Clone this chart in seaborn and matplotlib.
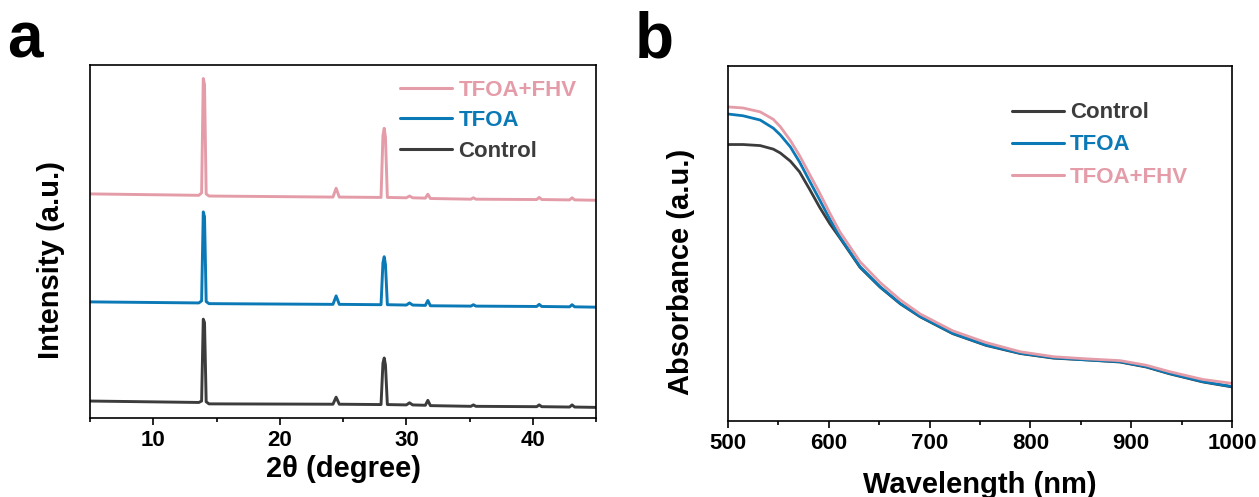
"""
plot.py
-------
XRD patterns (a) and UV-vis absorbance spectra (b) for Control, TFOA and
TFOA+FHV films. Saves out.png.
"""

import matplotlib
matplotlib.use("Agg")
import matplotlib.pyplot as plt
import seaborn as sns


# ---------------------------------------------------------------------------
# Data (stacked intensities in plot units)
# ---------------------------------------------------------------------------

two_theta = [5.0, 13.6, 13.82, 13.95, 14.05, 14.18, 14.4, 24.2, 24.45, 24.7,
             28.0, 28.15, 28.25, 28.35, 28.5, 30.0, 30.25, 30.5, 31.5, 31.7,
             31.9, 35.1, 35.3, 35.5, 40.3, 40.5, 40.7, 42.9, 43.1, 43.3, 45.0]

xrd_control = [4.8, 4.4, 4.8, 28.0, 27.0, 4.6, 4.0, 3.9, 5.9, 3.9,
               3.8, 15.5, 17.0, 15.0, 3.8, 3.7, 4.3, 3.7, 3.6, 5.0,
               3.5, 3.3, 3.7, 3.3, 3.2, 3.7, 3.2, 3.1, 3.7, 3.1, 3.0]

xrd_tfoa = [32.9, 32.6, 33.2, 58.4, 57.0, 33.0, 32.4, 32.2, 34.6, 32.2,
            32.1, 44.0, 45.7, 43.5, 32.1, 32.0, 32.6, 32.0, 31.9, 33.3,
            31.8, 31.7, 32.1, 31.7, 31.6, 32.2, 31.6, 31.5, 32.1, 31.5, 31.4]

xrd_tfoa_fhv = [63.5, 63.1, 63.8, 96.2, 94.5, 63.5, 62.9, 62.6, 65.1, 62.6,
                62.5, 80.0, 82.1, 79.5, 62.5, 62.4, 62.9, 62.4, 62.3, 63.4,
                62.2, 62.0, 62.4, 62.0, 61.9, 62.5, 61.9, 61.8, 62.4, 61.8, 61.7]

wavelength = [500, 515, 532, 545, 552, 562, 571, 581, 591, 601, 611, 631, 651,
              671, 691, 723, 756, 790, 823, 856, 889, 915, 938, 971, 1000]

abs_control = [77.9, 77.9, 77.6, 76.6, 75.5, 73.2, 70.2, 65.3, 60.2, 55.6, 51.6,
               43.3, 37.7, 33.0, 29.3, 24.6, 21.3, 19.0, 17.7, 17.2, 16.6, 15.2,
               13.3, 11.0, 9.6]

abs_tfoa = [86.5, 86.0, 84.8, 82.5, 80.6, 77.2, 73.0, 67.6, 62.3, 56.9, 51.9,
            43.5, 37.8, 33.1, 29.4, 24.7, 21.4, 19.1, 17.8, 17.2, 16.7, 15.3,
            13.4, 11.1, 9.7]

abs_tfoa_fhv = [88.5, 88.2, 87.1, 85.0, 82.9, 79.0, 74.8, 69.5, 64.2, 58.6, 53.3,
                44.9, 39.0, 34.1, 30.1, 25.4, 22.1, 19.5, 18.1, 17.5, 17.0, 15.7,
                13.9, 11.7, 10.6]

colors = {"Control": "#3c3c3c", "TFOA": "#0b79b6", "TFOA+FHV": "#e49ca8"}


# ---------------------------------------------------------------------------
# Style
# ---------------------------------------------------------------------------

sns.set_style("ticks")
plt.rcParams["font.family"] = ["Liberation Sans", "DejaVu Sans"]
plt.rcParams["font.weight"] = "bold"
plt.rcParams["axes.labelweight"] = "bold"
plt.rcParams["axes.linewidth"] = 1.2
plt.rcParams["text.color"] = "black"
plt.rcParams["axes.labelcolor"] = "black"
plt.rcParams["xtick.color"] = "black"
plt.rcParams["axes.edgecolor"] = "black"


def style_axes(ax, major, minor, xlim):
    ax.set_xlim(*xlim)
    ax.set_ylim(0, 100)
    ax.set_yticks([])
    ax.set_xticks(major)
    ax.set_xticks(minor, minor=True)
    ax.tick_params(axis="x", which="major", direction="out", length=5,
                   width=1.2, labelsize=16, pad=4, colors="black")
    ax.tick_params(axis="x", which="minor", direction="out", length=3, width=1.2)
    for label in ax.get_xticklabels():
        label.set_fontweight("bold")
    for side in ["top", "right", "left", "bottom"]:
        ax.spines[side].set_visible(True)
        ax.spines[side].set_color("black")


def color_legend(ax, anchor, spacing):
    leg = ax.legend(loc="upper left", bbox_to_anchor=anchor, frameon=False,
                    fontsize=16, handlelength=2.35, handletextpad=0.27,
                    labelspacing=spacing, borderpad=0, borderaxespad=0)
    for text, line in zip(leg.get_texts(), leg.get_lines()):
        text.set_color(line.get_color())
        text.set_fontweight("bold")
        line.set_linewidth(2.2)
    return leg


fig = plt.figure(figsize=(12.59, 4.97), dpi=100)
ax_a = fig.add_axes([0.0715, 0.159, 0.402, 0.710])
ax_b = fig.add_axes([0.5782, 0.153, 0.4003, 0.714])

# panel a: XRD
for name, values in [("TFOA+FHV", xrd_tfoa_fhv), ("TFOA", xrd_tfoa),
                     ("Control", xrd_control)]:
    sns.lineplot(x=two_theta, y=values, color=colors[name], label=name,
                 linewidth=2.1, ax=ax_a, sort=False)
style_axes(ax_a, [10, 20, 30, 40], [5, 15, 25, 35, 45], (5, 45))
ax_a.set_xlabel("2θ (degree)", fontsize=21, fontweight="bold")
ax_a.set_ylabel("Intensity (a.u.)", fontsize=21, fontweight="bold")
ax_a.yaxis.set_label_coords(-0.049, 0.448)
ax_a.xaxis.set_label_coords(0.5, -0.105)
color_legend(ax_a, (0.613, 0.958), 0.42)

# panel b: absorbance
for name, values in [("Control", abs_control), ("TFOA", abs_tfoa),
                     ("TFOA+FHV", abs_tfoa_fhv)]:
    sns.lineplot(x=wavelength, y=values, color=colors[name], label=name,
                 linewidth=2.0, ax=ax_b, sort=False)
style_axes(ax_b, list(range(500, 1001, 100)), list(range(550, 1000, 100)),
           (500, 1000))
ax_b.set_xlabel("Wavelength (nm)", fontsize=21, fontweight="bold")
ax_b.set_ylabel("Absorbance (a.u.)", fontsize=21, fontweight="bold")
ax_b.yaxis.set_label_coords(-0.065, 0.42)
ax_b.xaxis.set_label_coords(0.5, -0.14)
color_legend(ax_b, (0.563, 0.898), 0.5)

# panel letters
fig.text(0.006, 0.885, "a", fontsize=46, fontweight="bold", va="baseline")
fig.text(0.504, 0.885, "b", fontsize=46, fontweight="bold", va="baseline")

fig.savefig("out.png", dpi=100)
